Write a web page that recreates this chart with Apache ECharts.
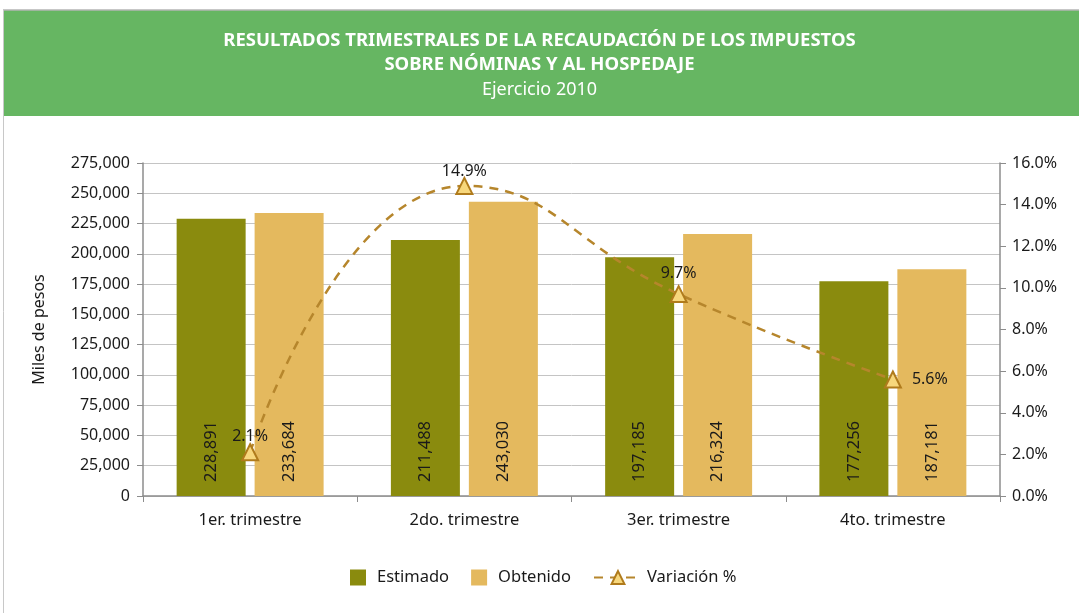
<!DOCTYPE html>
<html>
<head>
<meta charset="utf-8">
<script src="https://cdn.jsdelivr.net/npm/echarts@6/dist/echarts.min.js"></script>
<style>
  html, body { margin: 0; padding: 0; background: #fff; }
  #chart { width: 1079px; height: 613px; }
</style>
</head>
<body>
<div id="chart"></div>
<script>
const categories = ['1er. trimestre', '2do. trimestre', '3er. trimestre', '4to. trimestre'];
const estimado = [228891, 211488, 197185, 177256];
const obtenido = [233684, 243030, 216324, 187181];
const variacion = [2.1, 14.9, 9.7, 5.6];
const variacionLabelPos = ['top', 'top', 'top', 'right'];
const variacionLabelDist = [-1, -3, 4, 10];

let myChart = echarts.init(document.getElementById('chart'));

const fontFam = 'Noto Sans';
const axisGrey = '#8c8c8c';

function fmtThousands(v){
  return Number(v).toLocaleString('en-US');
}

let barLabel = {
  show: true,
  position: 'insideBottom',
  rotate: 90,
  align: 'left',
  verticalAlign: 'middle',
  distance: 14,
  color: '#1a1a1a',
  fontFamily: fontFam,
  fontSize: 16.5,
  formatter: function(p){ return fmtThousands(p.value); }
};

let legendText = { fontFamily: fontFam, fontSize: 16.5, color: '#1a1a1a', padding: [0, 0, 0, 6] };

let options = {
  animation: false,
  graphic: [
    { type: 'rect', shape: { x: 3, y: 10, width: 1076, height: 106 }, style: { fill: '#66b662' } },
    { type: 'line', shape: { x1: 3, y1: 10, x2: 1079, y2: 10 }, style: { stroke: '#b5b5b5', lineWidth: 1.5 } },
    { type: 'line', shape: { x1: 3.5, y1: 10, x2: 3.5, y2: 613 }, style: { stroke: '#c8c8c8', lineWidth: 1 } }
  ],
  title: {
    text: 'RESULTADOS TRIMESTRALES DE LA RECAUDACIÓN DE LOS IMPUESTOS\nSOBRE NÓMINAS Y AL HOSPEDAJE',
    subtext: 'Ejercicio 2010',
    left: 'center',
    top: 24,
    itemGap: 1,
    textStyle: { color: '#fff', fontFamily: fontFam, fontWeight: 'bold', fontSize: 18.5, lineHeight: 24 },
    subtextStyle: { color: '#fff', fontFamily: fontFam, fontSize: 18, lineHeight: 24 }
  },
  grid: { left: 143, right: 79, top: 163, bottom: 117 },
  legend: [
    {
      bottom: 22,
      left: 345,
      itemGap: 22,
      itemWidth: 16,
      itemHeight: 16,
      textStyle: legendText,
      data: [
        { name: 'Estimado', icon: 'rect' },
        { name: 'Obtenido', icon: 'rect' }
      ]
    },
    {
      bottom: 22,
      left: 588,
      itemWidth: 48,
      itemHeight: 16,
      textStyle: { fontFamily: fontFam, fontSize: 16.5, color: '#1a1a1a' },
      data: [{ name: 'Variación %' }]
    }
  ],
  xAxis: {
    type: 'category',
    data: categories,
    axisLine: { lineStyle: { color: axisGrey, width: 1.5 } },
    axisTick: { show: true, inside: false, length: 6, lineStyle: { color: axisGrey } },
    axisLabel: { color: '#1a1a1a', fontFamily: fontFam, fontSize: 16.5, margin: 16 }
  },
  yAxis: [
    {
      type: 'value',
      min: 0,
      max: 275000,
      interval: 25000,
      name: 'Miles de pesos',
      nameLocation: 'middle',
      nameGap: 96,
      nameTextStyle: { color: '#1a1a1a', fontFamily: fontFam, fontSize: 16 },
      axisLine: { show: true, lineStyle: { color: axisGrey, width: 1.5 } },
      axisTick: { show: true, length: 6, lineStyle: { color: axisGrey } },
      splitLine: { show: true, lineStyle: { color: '#c4c4c4', width: 1 } },
      axisLabel: {
        color: '#1a1a1a', fontFamily: fontFam, fontSize: 16, margin: 13,
        formatter: function(v){ return fmtThousands(v); }
      }
    },
    {
      type: 'value',
      min: 0,
      max: 16,
      interval: 2,
      position: 'right',
      axisLine: { show: true, lineStyle: { color: axisGrey, width: 1.5 } },
      axisTick: { show: true, length: 6, lineStyle: { color: axisGrey } },
      splitLine: { show: false },
      axisLabel: {
        color: '#1a1a1a', fontFamily: fontFam, fontSize: 16, margin: 12,
        formatter: function(v){ return v.toFixed(1) + '%'; }
      }
    }
  ],
  series: [
    {
      name: 'Estimado',
      type: 'bar',
      data: estimado,
      barWidth: 69,
      barGap: '13%',
      itemStyle: { color: '#8a8b0e' },
      label: barLabel
    },
    {
      name: 'Obtenido',
      type: 'bar',
      data: obtenido,
      barWidth: 69,
      barGap: '13%',
      itemStyle: { color: '#e4b95e' },
      label: barLabel
    },
    {
      name: 'Variación %',
      type: 'line',
      yAxisIndex: 1,
      smooth: 0.5,
      symbol: 'triangle',
      symbolSize: 16,
      z: 5,
      data: variacion.map(function(v, i){
        return { value: v, label: { position: variacionLabelPos[i], distance: variacionLabelDist[i] } };
      }),
      lineStyle: { color: '#b6862c', width: 2.5, type: [9, 7] },
      itemStyle: { color: '#f7d77c', borderColor: '#b07b1c', borderWidth: 2 },
      label: {
        show: true,
        color: '#1a1a1a',
        fontFamily: fontFam,
        fontSize: 16,
        formatter: function(p){ return p.value.toFixed(1) + '%'; }
      }
    }
  ]
};

myChart.setOption(options);
</script>
</body>
</html>
